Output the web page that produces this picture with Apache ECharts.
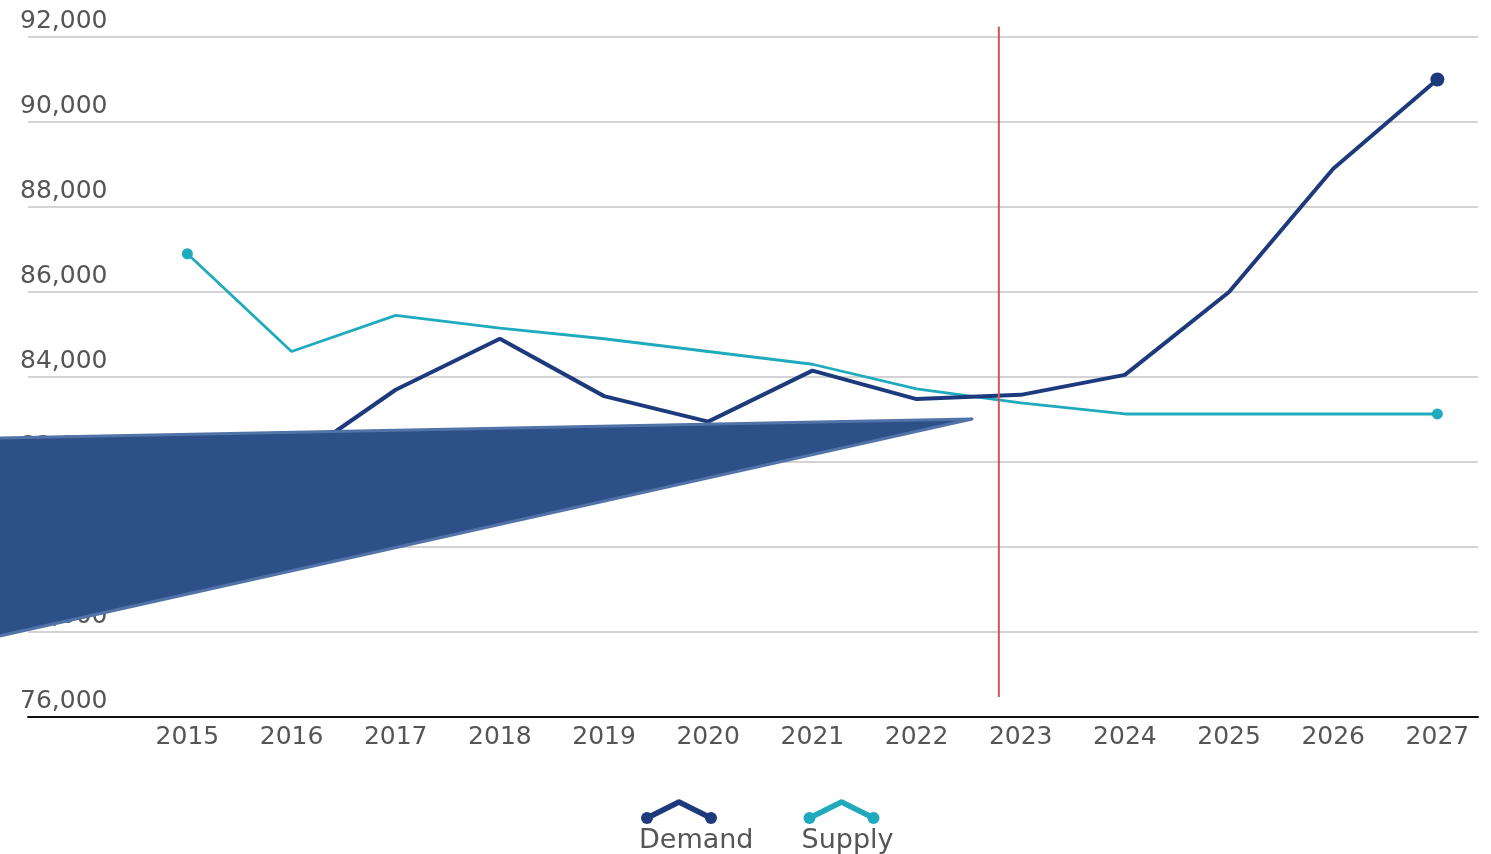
<!DOCTYPE html>
<html>
<head>
<meta charset="utf-8">
<script src="https://cdn.jsdelivr.net/npm/echarts@6/dist/echarts.min.js"></script>
<style>
  html, body { margin: 0; padding: 0; background: #fff; }
  #chart { width: 1491px; height: 854px; }
</style>
</head>
<body>
<div id="chart"></div>
<script>
// ---- data ----
const years = [2015, 2016, 2017, 2018, 2019, 2020, 2021, 2022, 2023, 2024, 2025, 2026, 2027];
const demand = [81600, 82000, 83700, 84900, 83550, 82950, 84150, 83480, 83580, 84050, 86000, 88900, 91000];
const supply = [86900, 84600, 85450, 85150, 84900, 84600, 84300, 83720, 83390, 83130, 83130, 83130, 83130];
const yTicks = [76000, 78000, 80000, 82000, 84000, 86000, 88000, 90000, 92000];
const seriesNames = ['Demand', 'Supply'];
const dividerYear = 2022.79;

const DEMAND_COLOR = '#1d3a7c';
const SUPPLY_COLOR = '#1fabbd';
const FONT = 'DejaVu Sans';

function withEndDots(values, size) {
  return values.map((v, i) => {
    if (i === 0 || i === values.length - 1) {
      return { value: [years[i], v], symbol: 'circle', symbolSize: size };
    }
    return { value: [years[i], v] };
  });
}

function iconSvg(color) {
  const svg = '<svg xmlns="http://www.w3.org/2000/svg" width="80" height="28" viewBox="0 0 80 28">' +
    '<polyline points="8,21 40,5 72,21" fill="none" stroke="' + color + '" stroke-width="5.5" stroke-linejoin="round"/>' +
    '<circle cx="8" cy="21" r="6" fill="' + color + '"/>' +
    '<circle cx="72" cy="21" r="6" fill="' + color + '"/></svg>';
  return 'data:image/svg+xml;charset=utf-8,' + encodeURIComponent(svg);
}

const chart = echarts.init(document.getElementById('chart'), null, { renderer: 'canvas' });

const option = {
  animation: false,
  backgroundColor: '#fff',
  grid: { left: 28, right: 13, top: 37, bottom: 137, containLabel: false },
  xAxis: {
    type: 'value',
    min: 2013.47,
    max: 2027.39,
    splitLine: { show: false },
    axisTick: { show: false },
    axisLine: { show: true, lineStyle: { color: '#111', width: 2 } },
    axisLabel: {
      customValues: years,
      formatter: v => String(Math.round(v)),
      color: '#555',
      fontFamily: FONT,
      fontSize: 25,
      margin: 8
    }
  },
  yAxis: {
    type: 'value',
    min: yTicks[0],
    max: yTicks[yTicks.length - 1],
    interval: 2000,
    axisLine: { show: false },
    axisTick: { show: false },
    splitLine: { lineStyle: { color: '#c4c4c4', width: 1.5 } },
    axisLabel: {
      inside: true,
      margin: -8,
      align: 'left',
      verticalAlign: 'bottom',
      padding: [0, 0, 3, 0],
      color: '#555',
      fontFamily: FONT,
      fontSize: 25,
      formatter: v => v.toLocaleString('en-US')
    }
  },
  legend: {
    data: seriesNames,
    left: 629,
    top: 792,
    icon: 'rect',
    itemWidth: 0,
    itemHeight: 0,
    itemGap: 43,
    selectedMode: false,
    formatter: name => '{' + (name === 'Demand' ? 'd' : 's') + '|}\n{t|' + name + '}',
    textStyle: {
      color: '#555',
      fontFamily: FONT,
      rich: {
        d: { width: 80, height: 28, backgroundColor: { image: iconSvg(DEMAND_COLOR) } },
        s: { width: 80, height: 28, backgroundColor: { image: iconSvg(SUPPLY_COLOR) } },
        t: { fontSize: 27, fontFamily: FONT, color: '#555', lineHeight: 30, padding: [2, 0, 0, 0] }
      }
    }
  },
  series: [
    {
      name: seriesNames[0],
      type: 'line',
      data: withEndDots(demand, 14),
      symbol: 'none',
      showSymbol: true,
      lineStyle: { color: DEMAND_COLOR, width: 4 },
      itemStyle: { color: DEMAND_COLOR },
      z: 4
    },
    {
      name: seriesNames[1],
      type: 'line',
      data: withEndDots(supply, 11),
      symbol: 'none',
      showSymbol: true,
      lineStyle: { color: SUPPLY_COLOR, width: 2.8 },
      itemStyle: { color: SUPPLY_COLOR },
      z: 3
    }
  ]
};

chart.setOption(option);

// annotations: vertical divider and covering callout shape
const pTop = chart.convertToPixel({ xAxisIndex: 0, yAxisIndex: 0 }, [dividerYear, 92250]);
const pBot = chart.convertToPixel({ xAxisIndex: 0, yAxisIndex: 0 }, [dividerYear, 76470]);
chart.setOption({
  graphic: [
    {
      type: 'line',
      z: 50,
      shape: { x1: pTop[0], y1: pTop[1], x2: pBot[0], y2: pBot[1] },
      style: { stroke: '#d45555', lineWidth: 2 }
    },
    {
      type: 'polygon',
      z: 100,
      shape: { points: [[-5, 438], [972, 419], [-5, 637]] },
      style: { fill: '#2d5089', stroke: '#5173a8', lineWidth: 3, lineJoin: 'round' }
    }
  ]
});
</script>
</body>
</html>
